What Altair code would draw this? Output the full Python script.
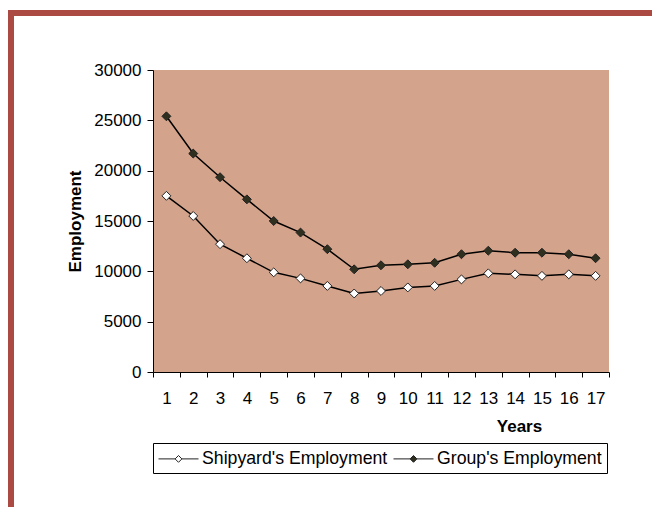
import altair as alt
import pandas as pd

years = list(range(1, 18))
shipyard = [17500, 15500, 12700, 11300, 9900, 9300, 8550, 7800, 8050, 8400,
            8550, 9200, 9800, 9700, 9550, 9700, 9550]
group = [25400, 21700, 19350, 17150, 15000, 13850, 12200, 10200, 10600, 10700,
         10850, 11700, 12050, 11850, 11850, 11700, 11300]
series_names = ["Shipyard's Employment", "Group's Employment"]
y_ticks = [0, 5000, 10000, 15000, 20000, 25000, 30000]

df = pd.DataFrame({
    "Year": years + years,
    "Employment": shipyard + group,
    "Series": [series_names[0]] * len(years) + [series_names[1]] * len(years),
})

FONT = "Liberation Sans"
W, H = 456, 302
PAD = {"left": 145, "top": 62, "right": 43, "bottom": 135}

x = alt.X("Year:O", scale=alt.Scale(paddingInner=0, paddingOuter=0),
          axis=alt.Axis(title="Years", labelAngle=0, tickBand="extent",
                        tickSize=5, labelPadding=26, labelBaseline="alphabetic",
                        labelFontSize=17, labelFont=FONT, labelColor="black",
                        titleFontSize=17, titleFont=FONT, titleFontWeight="bold",
                        titleColor="black", titleX=366, titleY=59,
                        titleAlign="center", titleBaseline="alphabetic",
                        domainColor="black", tickColor="black", grid=False))
y = alt.Y("Employment:Q", scale=alt.Scale(domain=[0, 30000], nice=False),
          axis=alt.Axis(title="Employment", values=y_ticks, format="d",
                        tickSize=6, labelPadding=6,
                        labelFontSize=17, labelFont=FONT, labelColor="black",
                        titleFontSize=17, titleFont=FONT, titleFontWeight="bold",
                        titleColor="black", titleAngle=-90, titleX=-78, titleY=151,
                        titleAlign="center", titleBaseline="middle",
                        domainColor="black", tickColor="black", grid=False))

# legend symbol: a short line with a diamond in its middle, 40px wide
LEG_PATH = "M-1,0L0.66,0M1.34,0L3,0M0.66,0L1,-0.34L1.34,0L1,0.34Z"

lines = alt.Chart(df).mark_line(color="black", strokeWidth=1.5).encode(
    x=x, y=y, detail="Series:N")

points = alt.Chart(df).mark_point(shape="diamond", size=80, filled=True,
                                  stroke="#222222", strokeWidth=1,
                                  opacity=1).encode(
    x=x, y=y,
    fill=alt.Fill("Series:N",
                  scale=alt.Scale(domain=series_names, range=["white", "#2f2f1f"]),
                  legend=alt.Legend(title=None, orient="none", legendX=0, legendY=373,
                                    direction="horizontal", symbolType=LEG_PATH,
                                    symbolSize=400, symbolStrokeColor="#222222",
                                    symbolStrokeWidth=1, symbolOpacity=1,
                                    labelFontSize=17.7, labelFont=FONT,
                                    labelColor="black", labelLimit=400,
                                    strokeColor="black", fillColor="white",
                                    padding=5, columnPadding=3, labelOffset=23)))

frame_df = pd.DataFrame({"k": [0]})
frame_top = alt.Chart(frame_df).mark_rect(color="#AB4A42").encode(
    x=alt.value(-145), x2=alt.value(W + PAD["right"]),
    y=alt.value(-60), y2=alt.value(-54))
frame_left = alt.Chart(frame_df).mark_rect(color="#AB4A42").encode(
    x=alt.value(-145), x2=alt.value(-139),
    y=alt.value(-60), y2=alt.value(H + PAD["bottom"]))

chart = alt.layer(frame_top, frame_left, lines, points).properties(
    width=W, height=H, padding=PAD,
    autosize=alt.AutoSizeParams(type="none"),
    background="white",
).configure_view(fill="#D4A38B", stroke=None)

chart.save("out.html", embed_options={"renderer": "svg", "actions": False})
